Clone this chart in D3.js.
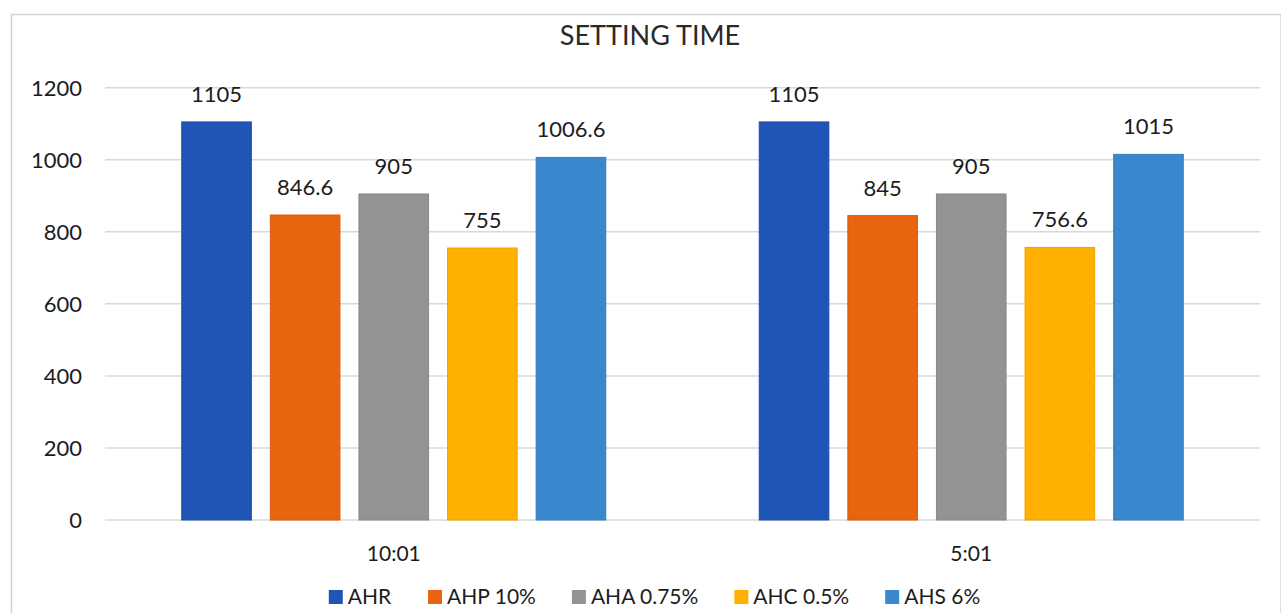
<!DOCTYPE html>
<html>
<head>
<meta charset="utf-8">
<script src="https://cdn.jsdelivr.net/npm/d3@7"></script>
<style>
  html, body { margin: 0; padding: 0; background: #fff; }
  svg { display: block; font-family: Lato, "Open Sans", sans-serif; }
</style>
</head>
<body>
<svg id="chart" width="1281" height="613"></svg>
<script>
// Setting time by mix ratio and additive
const title = "SETTING TIME";
const categories = ["10:01", "5:01"];
const series = ["AHR", "AHP 10%", "AHA 0.75%", "AHC 0.5%", "AHS 6%"];
const colors = ["#2054B6", "#E8640E", "#939393", "#FFB000", "#3A87CD"];
const values = [
  [1105, 1105],     // AHR
  [846.6, 845],     // AHP 10%
  [905, 905],       // AHA 0.75%
  [755, 756.6],     // AHC 0.5%
  [1006.6, 1015]    // AHS 6%
];
const yTicks = [0, 200, 400, 600, 800, 1000, 1200];

const svg = d3.select("#chart");
const W = 1281, H = 613;
const plot = { left: 105, right: 1260, top: 87.7, bottom: 520 };
const ink = "#1c1c1c";

// outer frame
svg.append("rect")
  .attr("x", 11.5).attr("y", 14.5)
  .attr("width", W - 11.5).attr("height", H)
  .attr("fill", "none").attr("stroke", "#d4d4d4").attr("stroke-width", 1.5);

const y = d3.scaleLinear().domain([0, 1200]).range([plot.bottom, plot.top]);
const x0 = d3.scaleBand().domain(categories).range([plot.left, plot.right]).padding(0);
const x1 = d3.scaleBand().domain(series).range([0, x0.bandwidth()])
  .paddingInner(0.2144).paddingOuter(0.866);

// gridlines
svg.append("g").selectAll("line").data(yTicks).join("line")
  .attr("x1", plot.left).attr("x2", plot.right)
  .attr("y1", d => y(d)).attr("y2", d => y(d))
  .attr("stroke", "#d9d9d9").attr("stroke-width", 1.5);

// y axis labels
const yAxis = d3.axisLeft(y).tickValues(yTicks).tickFormat(d3.format("d")).tickSize(0).tickPadding(0);
const gy = svg.append("g").attr("transform", "translate(82,0)").call(yAxis);
gy.select(".domain").remove();
gy.selectAll("text")
  .attr("font-family", "Lato, sans-serif").attr("font-size", 22)
  .attr("fill", ink).attr("dy", "0.36em");

// x axis labels
const xAxis = d3.axisBottom(x0).tickSize(0).tickPadding(0);
const gx = svg.append("g").attr("transform", "translate(0,561)").call(xAxis);
gx.select(".domain").remove();
gx.selectAll("text")
  .attr("font-family", "Lato, sans-serif").attr("font-size", 21)
  .attr("fill", ink).attr("dy", 0).attr("y", 0);

// bars
const rows = [];
series.forEach((s, i) => categories.forEach((c, j) => rows.push({ s, c, v: values[i][j], color: colors[i] })));

const bars = svg.append("g");
bars.selectAll("rect").data(rows).join("rect")
  .attr("x", d => x0(d.c) + x1(d.s))
  .attr("width", x1.bandwidth())
  .attr("y", d => y(d.v))
  .attr("height", d => y(0) - y(d.v))
  .attr("fill", d => d.color)
  .attr("stroke", d => d3.color(d.color).darker(0.2))
  .attr("stroke-width", 1);

// value labels
bars.selectAll("text").data(rows).join("text")
  .attr("x", d => x0(d.c) + x1(d.s) + x1.bandwidth() / 2)
  .attr("y", d => y(d.v) - 20)
  .attr("text-anchor", "middle")
  .attr("font-size", 22).attr("fill", ink)
  .text(d => d.v);

// title
svg.append("text")
  .attr("x", 650).attr("y", 45)
  .attr("text-anchor", "middle")
  .attr("font-size", 27).attr("fill", "#2a2a2a")
  .text(title);

// legend
const legend = svg.append("g");
const items = legend.selectAll("g").data(series).join("g");
items.append("rect")
  .attr("width", 14).attr("height", 14).attr("y", 590)
  .attr("fill", (d, i) => colors[i]);
items.append("text")
  .attr("x", 19).attr("y", 604)
  .attr("font-size", 21).attr("fill", ink)
  .text(d => d);
let cursor = 0;
const gap = 36;
const offsets = [];
items.each(function () {
  offsets.push(cursor);
  const w = this.getBBox().width;
  cursor += w + gap;
});
const total = cursor - gap;
const start = 654.5 - total / 2;
items.attr("transform", (d, i) => `translate(${start + offsets[i]},0)`);
</script>
</body>
</html>
